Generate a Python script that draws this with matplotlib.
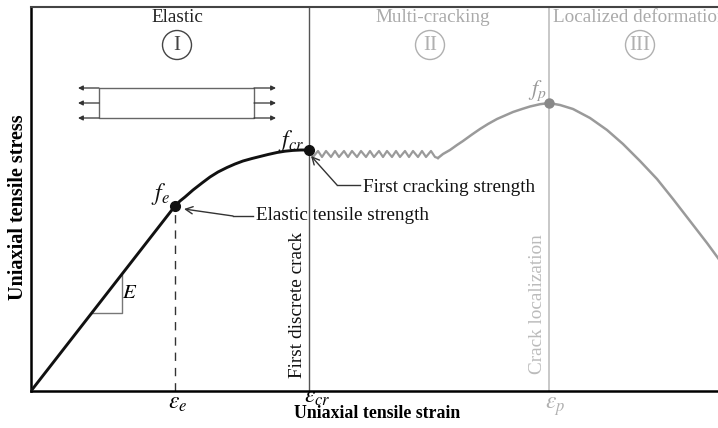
import matplotlib
matplotlib.use("Agg")
import matplotlib.pyplot as plt
from matplotlib.patches import Circle, Rectangle

plt.rcParams['font.family'] = ['Liberation Serif', 'DejaVu Serif']
plt.rcParams['mathtext.fontset'] = 'stix'

# ---- data (strain, stress in arbitrary schematic units) ----
elastic_strain = [0.00, 1.44]
elastic_stress = [0.00, 1.85]

harden_strain = [1.44, 1.49, 1.54, 1.62, 1.71, 1.79, 1.87, 1.96, 2.04, 2.12,
                 2.21, 2.29, 2.37, 2.46, 2.54, 2.62, 2.70, 2.78]
harden_stress = [1.85, 1.90, 1.94, 2.01, 2.08, 2.14, 2.19, 2.235, 2.27, 2.30,
                 2.325, 2.345, 2.365, 2.385, 2.398, 2.406, 2.41, 2.41]

zig_strain = [2.78, 2.82, 2.87, 2.91, 2.95, 3.00, 3.04, 3.08, 3.13, 3.17,
              3.21, 3.26, 3.30, 3.35, 3.39, 3.43, 3.48, 3.52, 3.56, 3.61,
              3.65, 3.69, 3.74, 3.78, 3.82, 3.87, 3.91, 3.95, 4.00, 4.04, 4.07]
zig_stress = [2.41, 2.34, 2.40, 2.34, 2.40, 2.34, 2.40, 2.34, 2.40, 2.34,
              2.40, 2.34, 2.40, 2.34, 2.40, 2.34, 2.40, 2.34, 2.40, 2.34,
              2.40, 2.34, 2.40, 2.34, 2.40, 2.34, 2.40, 2.34, 2.40, 2.34, 2.33]

rise_strain = [4.07, 4.12, 4.19, 4.26, 4.32, 4.41, 4.49, 4.57, 4.66, 4.74,
               4.82, 4.91, 4.99, 5.09, 5.18]
rise_stress = [2.33, 2.37, 2.41, 2.46, 2.50, 2.565, 2.62, 2.67, 2.72, 2.755,
               2.79, 2.82, 2.845, 2.868, 2.88]

soft_strain = [5.18, 5.29, 5.42, 5.59, 5.76, 5.92, 6.09, 6.26, 6.42, 6.59,
               6.76, 6.87, 7.00]
soft_stress = [2.88, 2.86, 2.82, 2.73, 2.61, 2.47, 2.30, 2.12, 1.92, 1.70,
               1.48, 1.33, 1.15]

eps_e, f_e = 1.44, 1.85
eps_cr, f_cr = 2.78, 2.41
eps_p, f_p = 5.18, 2.88

region_labels = ['Elastic', 'Multi-cracking', 'Localized deformation']
region_numerals = ['I', 'II', 'III']

fig = plt.figure(figsize=(7.18, 4.28), dpi=100)
ax = fig.add_axes([31/718, 37/428, 687/718, 384/428])
ax.set_xlim(0, 6.87)
ax.set_ylim(0, 3.84)
ax.set_xticks([]); ax.set_yticks([])
ax.spines['right'].set_visible(False)
ax.spines['left'].set_linewidth(1.8)
ax.spines['bottom'].set_linewidth(1.8)
ax.spines['top'].set_linewidth(1.5)
ax.spines['top'].set_color('#444444')

black = '#111111'
gray = '#9a9a9a'
lgray = '#c4c4c4'

# region separators
ax.plot([eps_cr, eps_cr], [0, 3.84], color='#555555', lw=1.0, zorder=1)
ax.plot([eps_p, eps_p], [0, 3.84], color=lgray, lw=1.3, zorder=1)
ax.plot([eps_e, eps_e], [0, f_e], color='#333333', lw=1.0, ls=(0, (6, 5)), zorder=1)

# curves
ax.plot(elastic_strain + harden_strain[1:], elastic_stress + harden_stress[1:],
        color=black, lw=2.1, solid_capstyle='round', solid_joinstyle='round', zorder=3)
ax.plot(zig_strain, zig_stress, color=gray, lw=1.6, zorder=2)
ax.plot(rise_strain, rise_stress, color=gray, lw=1.8, solid_joinstyle='round', zorder=2)
ax.plot(soft_strain, soft_stress, color=gray, lw=1.8, solid_joinstyle='round', zorder=2)

ax.plot([eps_e, eps_cr], [f_e, f_cr], 'o', color=black, ms=7, zorder=4, ls='none')
ax.plot([eps_p], [f_p], 'o', color='#888888', ms=6.5, zorder=4)

# slope triangle
ax.plot([0.61, 0.91, 0.91], [0.78, 0.78, 1.16], color='#777777', lw=1.0, zorder=2)
ax.text(0.99, 0.98, r'$E$', fontsize=15, ha='center', va='center')

# specimen sketch
ax.add_patch(Rectangle((0.68, 2.73), 1.55, 0.30, fill=False, ec='#666666', lw=1.0))
for yy in [2.73, 2.88, 3.03]:
    ax.annotate('', xy=(0.47, yy), xytext=(0.68, yy),
                arrowprops=dict(arrowstyle='-|>', color='#333333', lw=0.9,
                                mutation_scale=7, shrinkA=0, shrinkB=0))
    ax.annotate('', xy=(2.45, yy), xytext=(2.23, yy),
                arrowprops=dict(arrowstyle='-|>', color='#333333', lw=0.9,
                                mutation_scale=7, shrinkA=0, shrinkB=0))

# region headers
ax.text(1.46, 3.74, region_labels[0], fontsize=13.8, ha='center', va='center', color='#222222')
ax.text(4.02, 3.74, region_labels[1], fontsize=13.8, ha='center', va='center', color='#aaaaaa')
ax.text(5.22, 3.74, region_labels[2], fontsize=13.8, ha='left', va='center', color='#aaaaaa')
for cx, num, col in [(1.46, region_numerals[0], '#444444'),
                     (3.99, region_numerals[1], '#b0b0b0'),
                     (6.09, region_numerals[2], '#b0b0b0')]:
    ax.add_patch(Circle((cx, 3.46), 0.145, fill=False, ec=col, lw=1.0))
    ax.text(cx, 3.455, num, fontsize=15, ha='center', va='center', color=col)

# point labels
ax.text(2.60, 2.50, r'$f_{cr}$', fontsize=17, ha='center', va='center', color=black)
ax.text(1.29, 1.97, r'$f_{e}$', fontsize=17, ha='center', va='center', color=black)
ax.text(5.06, 3.00, r'$f_{p}$', fontsize=16, ha='center', va='center', color='#999999')

# annotations
ax.plot([3.29, 3.06], [2.06, 2.06], color='#333333', lw=1.0)
ax.annotate('', xy=(2.80, 2.35), xytext=(3.06, 2.06),
            arrowprops=dict(arrowstyle='->', color='#333333', lw=1.0,
                            mutation_scale=13, shrinkA=0, shrinkB=0))
ax.text(3.32, 2.04, 'First cracking strength', fontsize=13.8, ha='left', va='center', color=black)

ax.plot([2.22, 2.02], [1.75, 1.75], color='#333333', lw=1.0)
ax.annotate('', xy=(1.53, 1.82), xytext=(2.02, 1.75),
            arrowprops=dict(arrowstyle='->', color='#333333', lw=1.0,
                            mutation_scale=13, shrinkA=0, shrinkB=0))
ax.text(2.25, 1.76, 'Elastic tensile strength', fontsize=13.8, ha='left', va='center', color=black)

# vertical labels
ax.text(2.66, 0.86, 'First discrete crack', fontsize=13.9, rotation=90,
        ha='center', va='center', color=black)
ax.text(5.07, 0.87, 'Crack localization', fontsize=13.9, rotation=90,
        ha='center', va='center', color='#bbbbbb')

# strain markers on the axis
ax.text(1.47, -0.12, r'$\varepsilon_{e}$', fontsize=17, ha='center', va='center', clip_on=False)
ax.text(2.86, -0.06, r'$\varepsilon_{cr}$', fontsize=17, ha='center', va='center', clip_on=False)
ax.text(5.24, -0.16, r'$\varepsilon_{p}$', fontsize=17, ha='center', va='center',
        color='#b0b0b0', clip_on=False)

ax.text(3.46, -0.23, 'Uniaxial tensile strain', fontsize=12.8, fontweight='bold',
        ha='center', va='center', clip_on=False)
fig.text(18/718, 1 - 207/428, 'Uniaxial tensile stress', fontsize=14.5, fontweight='bold',
         rotation=90, ha='center', va='center')

fig.savefig('out.png', dpi=100)
